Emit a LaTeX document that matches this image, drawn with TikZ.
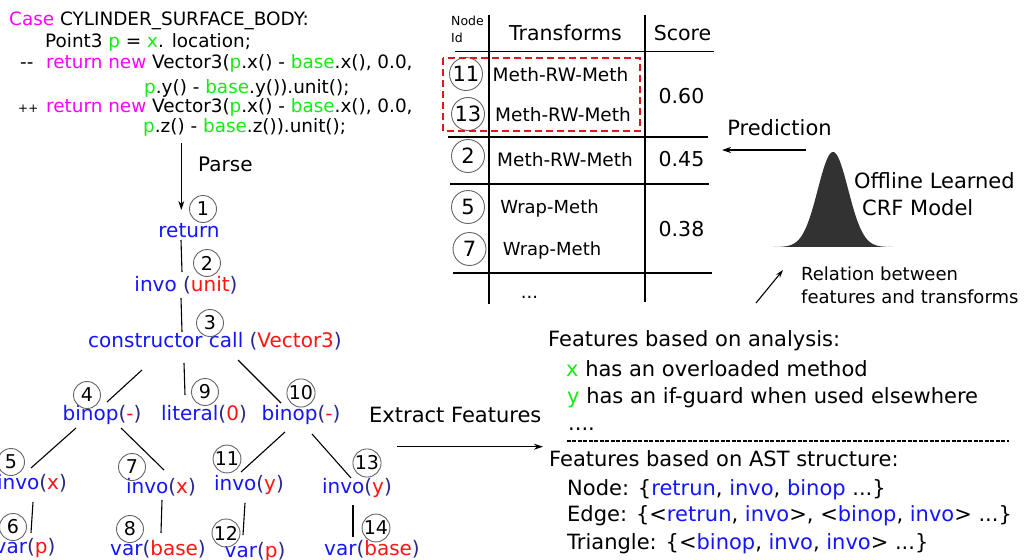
\documentclass[tikz,border=0pt]{standalone}
\usepackage{fontspec}
\setmainfont{DejaVu Sans}
\usetikzlibrary{arrows.meta,calc}
\definecolor{mag}{RGB}{255,0,255}
\definecolor{grn}{RGB}{20,235,20}
\definecolor{tblue}{RGB}{20,20,255}
\definecolor{tred}{RGB}{255,20,20}
\definecolor{navy}{RGB}{40,40,140}
\definecolor{crf}{RGB}{50,50,50}
\definecolor{dred}{RGB}{220,25,25}
\newcommand\argp[1]{\textcolor{navy}{(}\textcolor{tred}{#1}\textcolor{navy}{)}}
\newcommand\bl[1]{\textcolor{tblue}{#1}}
\newcommand\gr[1]{\textcolor{grn}{#1}}
\begin{document}
\begin{tikzpicture}[x=1pt,y=-1pt,
  code/.style={anchor=base west, inner sep=0pt, font=\fontsize{18.4}{22}\selectfont},
  tn/.style={anchor=base, inner sep=0pt, font=\fontsize{20}{24}\selectfont, text=tblue},
  num/.style={circle, draw=black!60, line width=0.9pt, minimum size=27pt, inner sep=0pt, font=\fontsize{19}{20}\selectfont},
  tnum/.style={num, minimum size=33pt, font=\fontsize{21}{22}\selectfont},
  edge/.style={line width=1.1pt},
  tline/.style={line width=1.2pt},
  ft/.style={anchor=base west, inner sep=0pt, font=\fontsize{21}{24}\selectfont},
  tcell/.style={anchor=base, inner sep=0pt, font=\fontsize{18}{22}\selectfont},
  big/.style={anchor=base, inner sep=0pt, font=\fontsize{20.5}{24}\selectfont},
  arr/.style={line width=1.2pt, -{Stealth[length=9pt,width=6pt]}}
]
\useasboundingbox (0,0) rectangle (1029,560);

% ---------- code ----------
\node[code] (c1) at (9,25) {\textcolor{mag}{Case} CYLINDER\_SURFACE\_BODY:};
\node[code] (c2) at (45,47) {Point3 \gr{p} = \gr{x}. location;};
\node[code] (c3a) at (20,68) {-{}-};
\node[code] (c3) at (46,68) {\textcolor{mag}{return new} Vector3(\gr{p}.x() - \gr{base}.x(), 0.0,};
\node[code] (c4) at (144,93) {\gr{p}.y() - \gr{base}.y()).unit();};
\node[code, font=\fontsize{12}{14}\selectfont] (c5a) at (18,112) {++};
\node[code] (c5) at (46,112) {\textcolor{mag}{return new} Vector3(\gr{p}.x() - \gr{base}.x(), 0.0,};
\node[code] (c6) at (143,132) {\gr{p}.z() - \gr{base}.z()).unit();};

% ---------- tree ----------
\node[tn] (n1) at (189,237) {return};
\node[tn] (n2) at (186,291) {invo \argp{unit}};
\node[tn] (n3) at (215,347) {constructor call \argp{Vector3}};
\node[tn] (n4) at (102,420) {binop\argp{-}};
\node[tn] (n9) at (204,420) {literal\argp{0}};
\node[tn] (n10) at (301,420) {binop\argp{-}};
\node[tn] (n5) at (32,489) {invo\argp{x}};
\node[tn] (n7) at (161,493) {invo\argp{x}};
\node[tn] (n11) at (249,490) {invo\argp{y}};
\node[tn] (n13) at (357,493) {invo\argp{y}};
\node[tn] (n6) at (25,553) {var\argp{p}};
\node[tn] (n8) at (158,555) {var\argp{base}};
\node[tn] (n12) at (255,557) {var\argp{p}};
\node[tn] (n14) at (372,555) {var\argp{base}};

\draw[arr] ($(n1.base)+(-7.7,-94)$) -- ($(n1.base)+(-7.7,-27)$);
\node[anchor=base west, inner sep=0pt, font=\fontsize{20}{24}\selectfont] (parse) at (198,171) {Parse};

\draw[edge] ($(n1.base)+(-8,3)$) -- ($(n2.base)+(-4,-19)$);
\draw[edge] ($(n2.base)+(-5,7)$) -- ($(n3.base)+(-33,-15)$);
\draw[edge] ($(n3.base)+(-73,23)$) -- ($(n4.base)+(5,-18)$);
\draw[edge] ($(n3.base)+(-31,16)$) -- ($(n9.base)+(-19,-25)$);
\draw[edge] ($(n3.base)+(23,13)$) -- ($(n10.base)+(-20,-17)$);
\draw[edge] ($(n4.base)+(-26,8)$) -- ($(n5.base)+(-1,-21)$);
\draw[edge] ($(n4.base)+(19,8)$) -- ($(n7.base)+(3,-23)$);
\draw[edge] ($(n10.base)+(-16,12)$) -- ($(n11.base)+(-8,-18)$);
\draw[edge] ($(n10.base)+(11,14)$) -- ($(n13.base)+(-6,-15)$);
\draw[edge] ($(n5.base)+(1,13)$) -- ($(n6.base)+(6,-20)$);
\draw[edge] ($(n7.base)+(1,7)$) -- ($(n8.base)+(3,-22)$);
\draw[edge] ($(n11.base)+(-4,13)$) -- ($(n12.base)+(-12,-22)$);
\draw[edge] ($(n13.base)+(-4,12)$) -- ($(n14.base)+(-19,-18)$);

\node[num] (k1) at (203,209) {1};
\node[num] (k2) at (207,263) {2};
\node[num] (k3) at (210,323) {3};
\node[num] (k4) at (87,395) {4};
\node[num] (k9) at (205,392) {9};
\node[num] (k10) at (301,393) {10};
\node[num] (k5) at (11,462) {5};
\node[num] (k7) at (132,467) {7};
\node[num] (k11) at (227,459) {11};
\node[num] (k13) at (367,463) {13};
\node[num] (k6) at (13,527) {6};
\node[num] (k8) at (130,529) {8};
\node[num] (k12) at (226,533) {12};
\node[num] (k14) at (376,528) {14};

% ---------- extract features ----------
\node[anchor=base west, inner sep=0pt, font=\fontsize{21}{24}\selectfont] (ext) at (369,422) {Extract Features};
\coordinate (exS) at (397,446.7);
\coordinate (exE) at (543,446.7);
\draw[arr] (exS) -- (exE);

% ---------- table ----------
\draw[tline] (489,15) -- (489,304);
\draw[tline] (645,15) -- (645,302);
\draw[tline] (455,51.5) -- (714,51.5);
\draw[tline] (448,137) -- (708,137);
\draw[tline] (450,184) -- (709,184);
\draw[tline] (453,273) -- (712,273);
\node[anchor=base west, inner sep=0pt, font=\fontsize{12.5}{15}\selectfont] (nid1) at (451,25.7) {Node};
\node[anchor=base west, inner sep=0pt, font=\fontsize{12.5}{15}\selectfont] (nid2) at (451,42.7) {Id};
\node[big] (hT) at (565.5,40) {Transforms};
\node[big] (hS) at (682.5,40) {Score};

\node[tnum] (t11) at (466,74) {11};
\node[tnum] (t13) at (468,114) {13};
\node[tnum] (t2) at (468,156) {2};
\node[tnum] (t5) at (468,207) {5};
\node[tnum] (t7) at (469.5,249) {7};
\node[tcell, font=\fontsize{18.5}{22}\selectfont] (r1) at (560.5,81.7) {Meth-RW-Meth};
\node[tcell, font=\fontsize{18.5}{22}\selectfont] (r2) at (563,121.7) {Meth-RW-Meth};
\node[tcell, font=\fontsize{18.5}{22}\selectfont] (r3) at (565,166.7) {Meth-RW-Meth};
\node[tcell] (r4) at (549.5,213.3) {Wrap-Meth};
\node[tcell] (r5) at (552,255) {Wrap-Meth};
\node[big] (s1) at (681.5,103.3) {0.60};
\node[big] (s2) at (681.5,166.7) {0.45};
\node[big] (s3) at (681.5,236.7) {0.38};
\node[tcell] (dots) at (529.5,298) {...};
\draw[dred, line width=1.6pt, dash pattern=on 7pt off 4pt] (443,58) rectangle (640,131);

% ---------- prediction / CRF ----------
\node[big, font=\fontsize{21}{24}\selectfont] (pred) at (779.5,135) {Prediction};
\coordinate (prS) at (806,150);
\coordinate (prE) at (722,150);
\draw[arr] (prS) -- (prE);
\fill[crf] plot[domain=-60:60, samples=121, smooth] ({833+\x},{247-95*exp(-(\x*\x)/(2*230))}) -- cycle;
\node[anchor=base west, inner sep=0pt, font=\fontsize{21}{24}\selectfont] (off1) at (854,188) {Offline Learned};
\node[anchor=base west, inner sep=0pt, font=\fontsize{21}{24}\selectfont] (off2) at (862,215) {CRF Model};
\coordinate (rlS) at (756,303);
\coordinate (rlE) at (783,270);
\draw[line width=1.1pt, -{Stealth[length=8pt,width=5pt]}] (rlS) -- (rlE);
\node[anchor=base west, inner sep=0pt, font=\fontsize{18}{22}\selectfont] (rel1) at (801,280) {Relation between};
\node[anchor=base west, inner sep=0pt, font=\fontsize{18}{22}\selectfont] (rel2) at (801,303) {features and transforms};

% ---------- features ----------
\node[ft] (f1) at (548,346.7) {Features based on analysis:};
\node[ft] (f2) at (566,376.7) {\gr{x} has an overloaded method};
\node[ft] (f3) at (567,403.3) {\gr{y} has an if-guard when used elsewhere};
\node[ft] (f4) at (568,430) {....};
\coordinate (dlS) at (566.7,441);
\coordinate (dlE) at (1009.3,441);
\draw[line width=1.6pt, dash pattern=on 4pt off 1.5pt] (dlS) -- (dlE);
\node[ft] (f5) at (549,466.7) {Features based on AST structure:};
\node[ft] (f6) at (567,495) {Node: \{\bl{retrun}, \bl{invo}, \bl{binop} ...\}};
\node[ft] (f7) at (567,521.7) {Edge: \{<\bl{retrun}, \bl{invo}>, <\bl{binop}, \bl{invo}> ...\}};
\node[ft] (f8) at (567,549.3) {Triangle: \{<\bl{binop}, \bl{invo}, \bl{invo}> ...\}};
\end{tikzpicture}
\end{document}
